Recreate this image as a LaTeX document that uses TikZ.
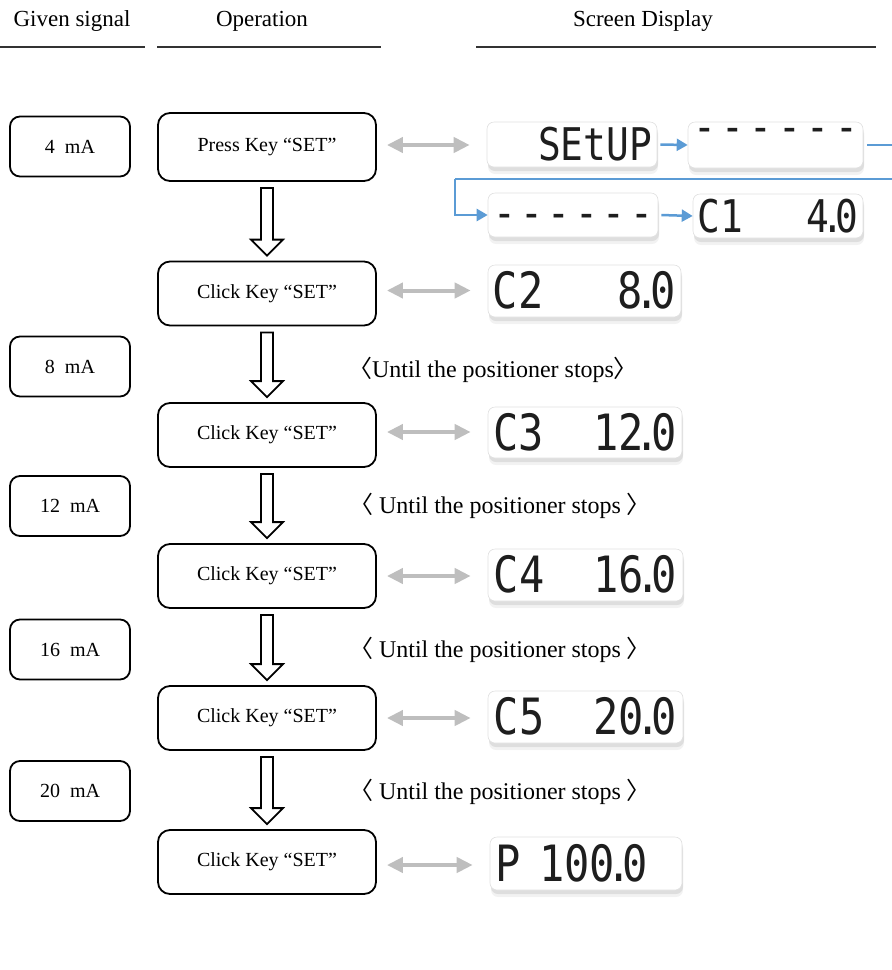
\documentclass[tikz,border=0pt]{standalone}
\usepackage{fontspec}
\usepackage{graphicx}
\setmainfont{Liberation Serif}
\newfontfamily\lcdfont{DejaVu Sans Mono}
\newfontfamily\cjkfont{Noto Sans CJK SC}
\usetikzlibrary{arrows.meta,calc,shadows}
\definecolor{arrowblue}{RGB}{91,155,213}
\definecolor{arrowgrey}{RGB}{190,190,190}
\definecolor{lcdink}{RGB}{30,30,30}
\newcommand{\lcdpt}{\kern-0.21em.\kern-0.21em}
\newcommand{\lcdrow}[2]{\scalebox{0.84}[1]{\hbox to #1{#2}}}
\newcommand{\hollowdown}[2]{%
  \draw[hollowarrow] let \p1=($(#1.south)+(0,6)$), \p2=($(#2.north)+(0,-5)$) in
    (\x1-6pt,\y1) -- (\x1+6pt,\y1) -- (\x1+6pt,\y2+16pt) -- (\x1+16pt,\y2+16pt)
    -- (\x1,\y2) -- (\x1-16pt,\y2+16pt) -- (\x1-6pt,\y2+16pt) -- cycle;}
\begin{document}
\begin{tikzpicture}[x=1pt,y=-1pt,
  header/.style={font=\fontsize{23}{26}\selectfont},
  headline/.style={line width=1.3pt, draw=black!80},
  sigbox/.style={draw, line width=1.8pt, rounded corners=10pt, minimum width=120pt,
    minimum height=60pt, inner sep=0pt, font=\fontsize{20}{22}\selectfont},
  opbox/.style={draw, line width=1.8pt, rounded corners=12pt, minimum width=218pt,
    minimum height=64pt, inner sep=0pt, font=\fontsize{20}{22}\selectfont},
  lcd/.style={draw=black!12, line width=0.6pt, fill=white, rounded corners=7pt,
    inner sep=0pt, text=lcdink, text height=35pt, text depth=0pt,
    drop shadow={shadow xshift=1pt, shadow yshift=-7pt, opacity=0.10},
    drop shadow={shadow xshift=1pt, shadow yshift=-4pt, opacity=0.18},
    font=\lcdfont\fontsize{50}{50}\selectfont},
  lcdsmall/.style={lcd, text height=32pt, font=\lcdfont\fontsize{45}{45}\selectfont},
  untiltext/.style={font=\fontsize{24}{27}\selectfont},
  greyarrow/.style={draw=arrowgrey, line width=4pt,
    {Triangle[length=16pt,width=15pt]}-{Triangle[length=16pt,width=15pt]}},
  bluearrow/.style={draw=arrowblue, line width=2.5pt, -{Triangle[length=11pt,width=12pt]}},
  blueline/.style={draw=arrowblue, line width=2.5pt},
  hollowarrow/.style={draw=black, line width=1.8pt, fill=white, line join=miter}
]
\useasboundingbox (0,0) rectangle (892,970);

% headers
\node[header] (hgiven) at (72,21) {Given signal};
\node[header] (hop) at (262,21) {Operation};
\node[header] (hscreen) at (643,21) {Screen Display};
\draw[headline] (0,47) -- (145,47);
\draw[headline] (157,47) -- (381,47);
\draw[headline] (476,47) -- (876,47);

% signal boxes
\node[sigbox] (s4)  at (70,146.5) {4~~mA};
\node[sigbox] (s8)  at (70,366.5) {8~~mA};
\node[sigbox] (s12) at (70,506)   {12~~mA};
\node[sigbox] (s16) at (70,649.5) {16~~mA};
\node[sigbox] (s20) at (70,791)   {20~~mA};

% operation boxes
\node[opbox, minimum height=68pt] (op0) at (267,147) {Press Key “SET”};
\node[opbox] (op1) at (267,293.5) {Click Key “SET”};
\node[opbox] (op2) at (267,435)   {Click Key “SET”};
\node[opbox] (op3) at (267,576)   {Click Key “SET”};
\node[opbox] (op4) at (267,718)   {Click Key “SET”};
\node[opbox] (op5) at (267,862)   {Click Key “SET”};

% hollow arrows
\hollowdown{op0}{op1}
\hollowdown{op1}{op2}
\hollowdown{op2}{op3}
\hollowdown{op3}{op4}
\hollowdown{op4}{op5}

% until texts
\node[untiltext] (u1) at (493,370) {{\cjkfont 〈}Until the positioner stops{\cjkfont 〉}};
\node[untiltext] (u2) at (500,506) {{\cjkfont 〈} Until the positioner stops {\cjkfont 〉}};
\node[untiltext] (u3) at (500,650) {{\cjkfont 〈} Until the positioner stops {\cjkfont 〉}};
\node[untiltext] (u4) at (500,792) {{\cjkfont 〈} Until the positioner stops {\cjkfont 〉}};

% displays
\node[lcdsmall, minimum width=170pt, minimum height=45pt] (dsetup) at (572,144.5)
  {\lcdrow{190pt}{\hfill SEtUP}};
\node[lcdsmall, minimum width=175pt, minimum height=46pt] (ddash1) at (775.5,145)
  {\lcdrow{196pt}{\raisebox{19pt}{-}\hfil\raisebox{19pt}{-}\hfil\raisebox{19pt}{-}\hfil\raisebox{19pt}{-}\hfil\raisebox{19pt}{-}\hfil\raisebox{19pt}{-}}};
\node[lcdsmall, minimum width=170pt, minimum height=44pt] (ddash2) at (573,215)
  {\lcdrow{190pt}{\raisebox{3pt}{-}\hfil\raisebox{3pt}{-}\hfil\raisebox{3pt}{-}\hfil\raisebox{3pt}{-}\hfil\raisebox{3pt}{-}\hfil\raisebox{3pt}{-}}};
\node[lcdsmall, minimum width=170pt, minimum height=44pt] (dc1) at (778,216)
  {\lcdrow{192pt}{C1\hfill 4\lcdpt 0}};
\node[lcd, minimum width=193pt, minimum height=52pt] (dc2) at (584.5,291)
  {\lcdrow{218pt}{C2\hfill 8\lcdpt 0}};
\node[lcd, minimum width=194pt, minimum height=51pt] (dc3) at (585,432.5)
  {\lcdrow{218pt}{C3\hfill 12\lcdpt 0}};
\node[lcd, minimum width=195pt, minimum height=52pt] (dc4) at (585.5,575)
  {\lcdrow{218pt}{C4\hfill 16\lcdpt 0}};
\node[lcd, minimum width=195pt, minimum height=52pt] (dc5) at (585.5,717)
  {\lcdrow{218pt}{C5\hfill 20\lcdpt 0}};
\node[lcd, minimum width=192pt, minimum height=53pt] (dp) at (586,863.5)
  {\lcdrow{216pt}{P\kern 22pt 100\lcdpt 0\hfill}};

% grey double arrows
\draw[greyarrow] ($(op0.east)+(10,-2)$) -- ($(op0.east -| dsetup.west)+(-17,-2)$);
\draw[greyarrow] ($(op1.east)+(10,-3)$) -- ($(op1.east -| dc2.west)+(-17,-3)$);
\draw[greyarrow] ($(op2.east)+(10,-3)$) -- ($(op2.east -| dc3.west)+(-17,-3)$);
\draw[greyarrow] ($(op3.east)+(10,0)$) -- ($(op3.east -| dc4.west)+(-17,0)$);
\draw[greyarrow] ($(op4.east)+(10,0)$) -- ($(op4.east -| dc5.west)+(-17,0)$);
\draw[greyarrow] ($(op5.east)+(10,3)$) -- ($(op5.east -| dp.west)+(-17,3)$);

% blue sequence arrows
\coordinate (bendtop) at (455,179);
\draw[bluearrow] ($(dsetup.east)+(3,0)$) -- (ddash1.west);
\draw[blueline] ($(ddash1.east)+(4,0)$) -- (900,145) -- (900,179) -- (bendtop);
\draw[bluearrow] (bendtop) |- (ddash2.west);
\draw[bluearrow] ($(ddash2.east)+(3,0)$) -- (dc1.west);
\end{tikzpicture}
\end{document}
